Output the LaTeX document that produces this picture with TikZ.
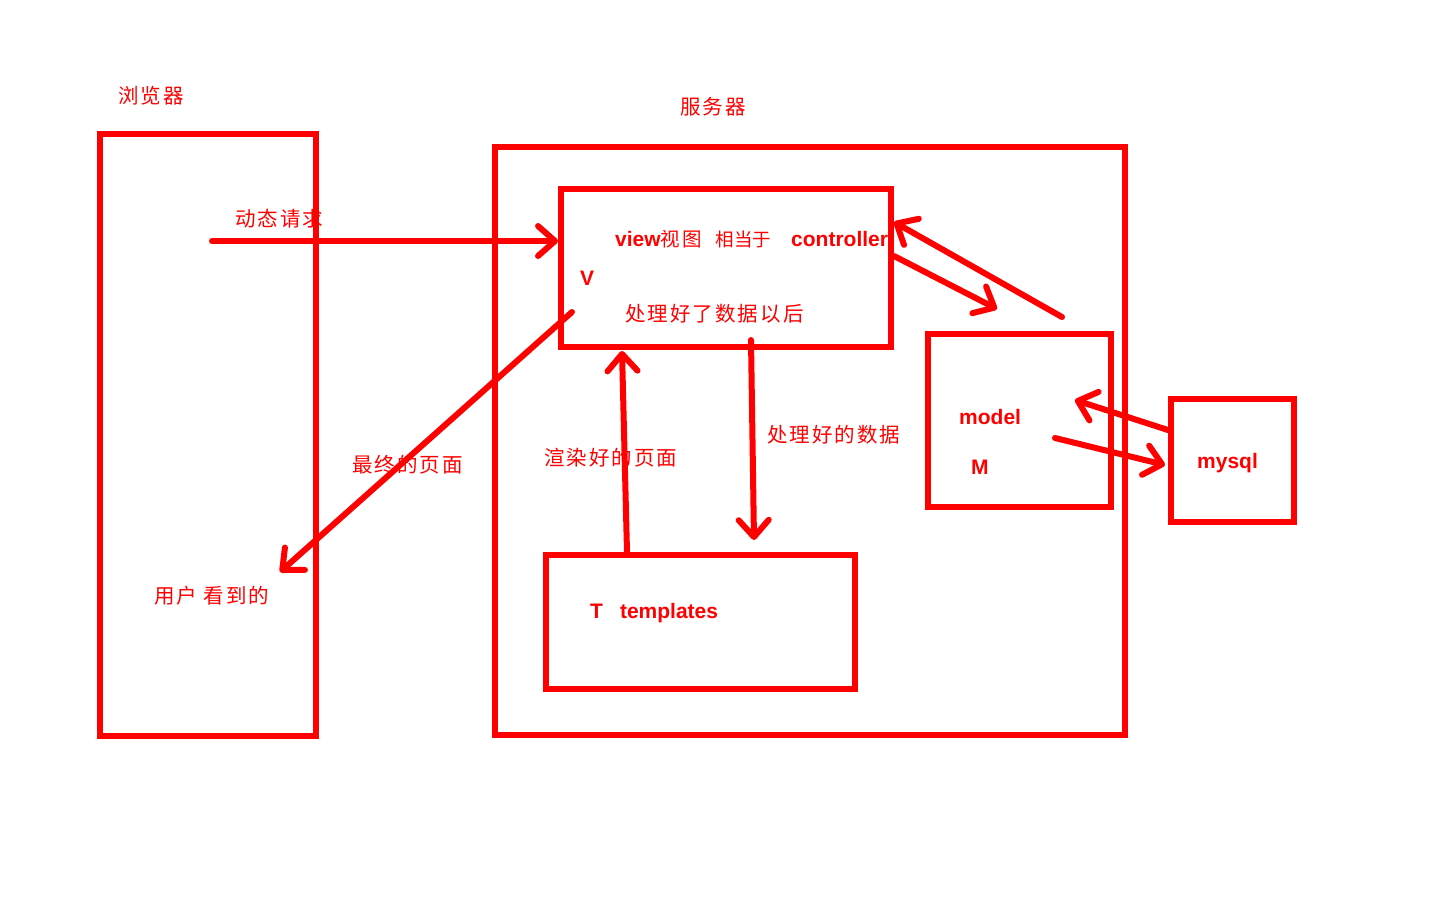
\documentclass[tikz,border=0pt]{standalone}
\usepackage{fontspec}
\setmainfont{Liberation Sans}
\newfontfamily\cjk[LetterSpace=10]{Noto Sans CJK SC}
\newfontfamily\cjkt{Noto Sans CJK SC}
\usetikzlibrary{arrows.meta}
\definecolor{pen}{HTML}{FF0000}
\begin{document}
\begin{tikzpicture}[x=1pt,y=-1pt,
  box/.style={draw=pen,line width=6pt,rectangle,inner sep=0pt},
  lab/.style={text=pen,inner sep=0pt,anchor=west,font=\fontsize{20.5}{22}\cjk},
  latin/.style={text=pen,inner sep=0pt,anchor=west,font=\fontsize{21}{23}\bfseries},
  arr/.style={draw=pen,line width=6pt,line cap=round,-{Straight Barb[length=17pt,width=30pt,round]}}]
\useasboundingbox (0,0) rectangle (1440,900);
% texts
\node[lab] (tb) at (118,96) {浏览器};
\node[lab] (ts) at (680,107) {服务器};
\node[lab] (tq) at (235,219) {动态请求};
\node[latin] (tv) at (615,239) {view{\mdseries\cjk\fontsize{19.5}{21}\selectfont 视图}\hspace{14pt}{\mdseries\cjkt\fontsize{18.5}{21}\selectfont 相当于}\hspace{20pt}controller};
\node[latin] (tV) at (580,278) {V};
\node[lab] (tp) at (625,314) {处理好了数据以后};
\node[latin] (tm) at (959,417) {model};
\node[latin] (tM) at (971,467) {M};
\node[latin] (tmy) at (1197,463) {mysql};
\node[latin] (tt) at (590,613) {T\hspace{17pt}templates};
\node[lab] (tf) at (352,465) {最终的页面};
\node[lab] (tr) at (544,458) {渲染好的页面};
\node[lab] (td) at (767,435) {处理好的数据};
\node[lab] (tu) at (154,596) {用户 看到的};
% boxes
\node[box,minimum width=216pt,minimum height=602pt] (browser) at (208,435) {};
\node[box,minimum width=630pt,minimum height=588pt] (server) at (810,441) {};
\node[box,minimum width=330pt,minimum height=158pt] (view) at (726,268) {};
\node[box,minimum width=183pt,minimum height=173pt] (model) at (1019.5,420.5) {};
\node[box,minimum width=123pt,minimum height=123pt] (mysql) at (1232.5,460.5) {};
\node[box,minimum width=309pt,minimum height=134pt] (tmpl) at (700.5,622) {};
% coordinates
\coordinate (a1s) at (212,241);
\coordinate (a1e) at (558,241);
\coordinate (a2s) at (572,312);
\coordinate (a2e) at (280,572);
\coordinate (a3s) at (627,552);
\coordinate (a3e) at (622,351);
\coordinate (a4s) at (751,340);
\coordinate (a4e) at (754,540);
\coordinate (a5s) at (894,256);
\coordinate (a5e) at (997,309);
\coordinate (a6s) at (1062,317);
\coordinate (a6e) at (894,222);
\coordinate (a7s) at (1168,430);
\coordinate (a7e) at (1075,400);
\coordinate (a8s) at (1055,438);
\coordinate (a8e) at (1165,465);
% arrows
\draw[arr] (a1s) -- (a1e);
\draw[arr] (a2s) -- (a2e);
\draw[arr] (a3s) -- (a3e);
\draw[arr] (a4s) -- (a4e);
\draw[arr] (a5s) -- (a5e);
\draw[arr] (a6s) -- (a6e);
\draw[arr] (a7s) -- (a7e);
\draw[arr] (a8s) -- (a8e);
\end{tikzpicture}
\end{document}
